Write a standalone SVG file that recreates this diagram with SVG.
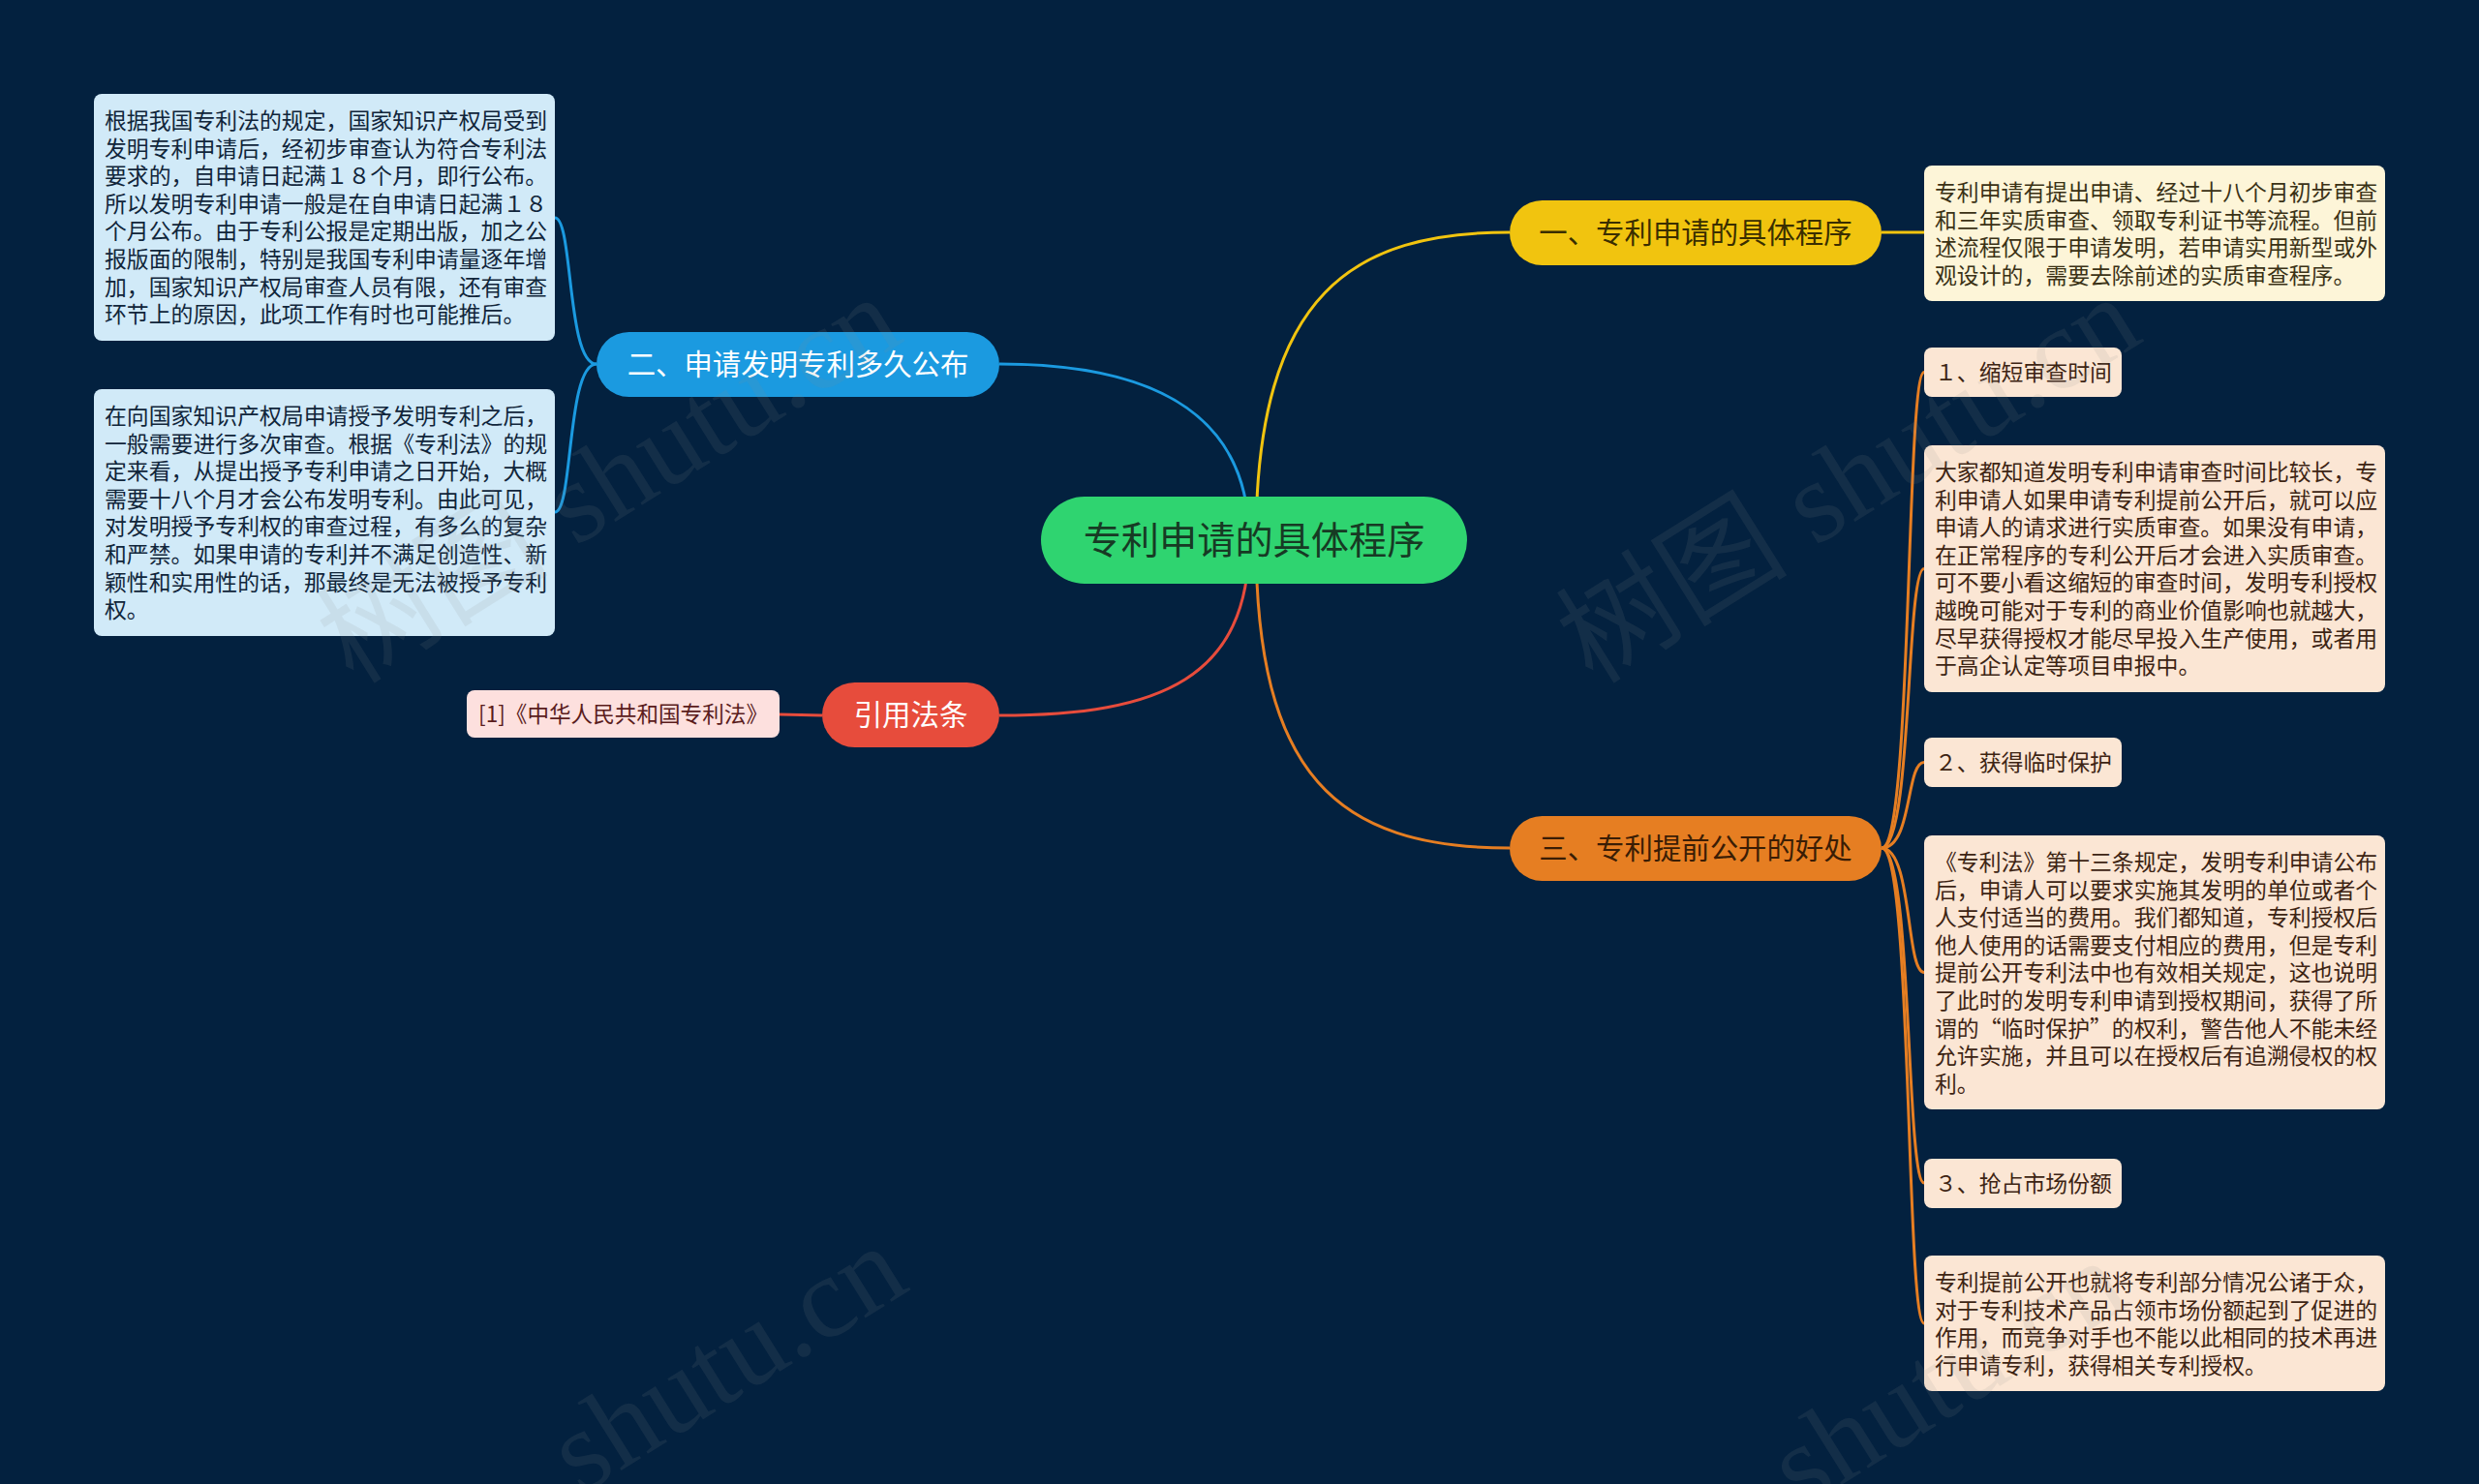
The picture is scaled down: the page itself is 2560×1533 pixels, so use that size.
<svg xmlns="http://www.w3.org/2000/svg" width="2560" height="1533" viewBox="0 0 2560 1533">
<style>
text{font-family:"Noto Sans CJK SC","Noto Sans",sans-serif}
.leaf{font-size:22.86px}
.main{font-size:29.4px;text-anchor:middle}
.wm{font-family:"Liberation Serif","Noto Sans CJK SC",serif;font-size:120px;fill:#8a8a8a;fill-opacity:0.12}
.c{fill:none;stroke-width:3}
</style>
<rect width="2560" height="1533" fill="#03213f"/>
<g id="connectors">
<path class="c" stroke="#f1c40f" d="M1297,558 C1297,300 1400,240 1559,240"/>
<path class="c" stroke="#f1c40f" d="M1943,240 L1987,240"/>
<path class="c" stroke="#1b9ae0" d="M1290,558 C1290,420 1180,376 1032,376"/>
<path class="c" stroke="#1b9ae0" d="M616,376 C585,376 592,225 573,225"/>
<path class="c" stroke="#1b9ae0" d="M616,376 C585,376 592,529 573,529"/>
<path class="c" stroke="#e74c3c" d="M1290,558 C1290,700 1200,739 1032,739"/>
<path class="c" stroke="#e74c3c" d="M849,739 L805,738"/>
<path class="c" stroke="#e67e22" d="M1297,558 C1297,800 1380,876 1559,876"/>
<path class="c" stroke="#e67e22" d="M1943,876 C1975,876 1968,384.5 1987,384.5"/>
<path class="c" stroke="#e67e22" d="M1943,876 C1975,876 1968,587.5 1987,587.5"/>
<path class="c" stroke="#e67e22" d="M1943,876 C1975,876 1968,787.5 1987,787.5"/>
<path class="c" stroke="#e67e22" d="M1943,876 C1975,876 1968,1004.5 1987,1004.5"/>
<path class="c" stroke="#e67e22" d="M1943,876 C1975,876 1968,1222 1987,1222"/>
<path class="c" stroke="#e67e22" d="M1943,876 C1975,876 1968,1367 1987,1367"/>
</g>
<g id="center">
<rect x="1075" y="513" width="440" height="90" rx="45" fill="#2fd470"/>
<text x="1295" y="572" style="font-size:39.2px;text-anchor:middle" fill="#173a24">专利申请的具体程序</text>
</g>
<g id="b1">
<rect x="1559" y="207" width="384" height="67" rx="33.5" fill="#f1c40f"/>
<text class="main" x="1751" y="251" fill="#3a2e00">一、专利申请的具体程序</text>
</g>
<g id="b1-leaf">
<rect x="1987" y="171" width="476" height="140" rx="8" fill="#fdf5d8"/>
<text class="leaf" fill="#3a3115"><tspan x="1998" y="207">专利申请有提出申请、经过十八个月初步审查</tspan><tspan x="1998" y="235.6">和三年实质审查、领取专利证书等流程。但前</tspan><tspan x="1998" y="264.2">述流程仅限于申请发明，若申请实用新型或外</tspan><tspan x="1998" y="292.8">观设计的，需要去除前述的实质审查程序。</tspan></text>
</g>
<g id="b2">
<rect x="616" y="343" width="416" height="67" rx="33.5" fill="#1b9ae0"/>
<text class="main" x="824" y="387" fill="#ffffff">二、申请发明专利多久公布</text>
</g>
<g id="b2-leaf1">
<rect x="97" y="97" width="476" height="255" rx="8" fill="#d1eaf8"/>
<text class="leaf" fill="#10253a"><tspan x="108" y="133">根据我国专利法的规定，国家知识产权局受到</tspan><tspan x="108" y="161.6">发明专利申请后，经初步审查认为符合专利法</tspan><tspan x="108" y="190.2">要求的，自申请日起满１８个月，即行公布。</tspan><tspan x="108" y="218.8">所以发明专利申请一般是在自申请日起满１８</tspan><tspan x="108" y="247.4">个月公布。由于专利公报是定期出版，加之公</tspan><tspan x="108" y="276">报版面的限制，特别是我国专利申请量逐年增</tspan><tspan x="108" y="304.6">加，国家知识产权局审查人员有限，还有审查</tspan><tspan x="108" y="333.2">环节上的原因，此项工作有时也可能推后。</tspan></text>
</g>
<g id="b2-leaf2">
<rect x="97" y="402" width="476" height="255" rx="8" fill="#d1eaf8"/>
<text class="leaf" fill="#10253a"><tspan x="108" y="438">在向国家知识产权局申请授予发明专利之后，</tspan><tspan x="108" y="466.6">一般需要进行多次审查。根据《专利法》的规</tspan><tspan x="108" y="495.2">定来看，从提出授予专利申请之日开始，大概</tspan><tspan x="108" y="523.8">需要十八个月才会公布发明专利。由此可见，</tspan><tspan x="108" y="552.4">对发明授予专利权的审查过程，有多么的复杂</tspan><tspan x="108" y="581">和严禁。如果申请的专利并不满足创造性、新</tspan><tspan x="108" y="609.6">颖性和实用性的话，那最终是无法被授予专利</tspan><tspan x="108" y="638.2">权。</tspan></text>
</g>
<g id="b3">
<rect x="849" y="705" width="183" height="67" rx="33.5" fill="#e74c3c"/>
<text class="main" x="940.5" y="749" fill="#ffffff">引用法条</text>
</g>
<g id="b3-leaf">
<rect x="482" y="713" width="323" height="49" rx="8" fill="#fde0de"/>
<text class="leaf" x="494" y="746" fill="#5a1c1c" textLength="299" lengthAdjust="spacingAndGlyphs">[1]《中华人民共和国专利法》</text>
</g>
<g id="b4">
<rect x="1559" y="843" width="384" height="67" rx="33.5" fill="#e67e22"/>
<text class="main" x="1751" y="887" fill="#3a1d05">三、专利提前公开的好处</text>
</g>
<g id="b4-l1">
<rect x="1987" y="359" width="204" height="51" rx="8" fill="#fbe6d4"/>
<text class="leaf" x="1998" y="393" fill="#3d2413">１、缩短审查时间</text>
</g>
<g id="b4-l2">
<rect x="1987" y="460" width="476" height="255" rx="8" fill="#fbe6d4"/>
<text class="leaf" fill="#3d2413"><tspan x="1998" y="496">大家都知道发明专利申请审查时间比较长，专</tspan><tspan x="1998" y="524.6">利申请人如果申请专利提前公开后，就可以应</tspan><tspan x="1998" y="553.2">申请人的请求进行实质审查。如果没有申请，</tspan><tspan x="1998" y="581.8">在正常程序的专利公开后才会进入实质审查。</tspan><tspan x="1998" y="610.4">可不要小看这缩短的审查时间，发明专利授权</tspan><tspan x="1998" y="639">越晚可能对于专利的商业价值影响也就越大，</tspan><tspan x="1998" y="667.6">尽早获得授权才能尽早投入生产使用，或者用</tspan><tspan x="1998" y="696.2">于高企认定等项目申报中。</tspan></text>
</g>
<g id="b4-l3">
<rect x="1987" y="762" width="204" height="51" rx="8" fill="#fbe6d4"/>
<text class="leaf" x="1998" y="796" fill="#3d2413">２、获得临时保护</text>
</g>
<g id="b4-l4">
<rect x="1987" y="863" width="476" height="283" rx="8" fill="#fbe6d4"/>
<text class="leaf" fill="#3d2413"><tspan x="1998" y="899">《专利法》第十三条规定，发明专利申请公布</tspan><tspan x="1998" y="927.6">后，申请人可以要求实施其发明的单位或者个</tspan><tspan x="1998" y="956.2">人支付适当的费用。我们都知道，专利授权后</tspan><tspan x="1998" y="984.8">他人使用的话需要支付相应的费用，但是专利</tspan><tspan x="1998" y="1013.4">提前公开专利法中也有效相关规定，这也说明</tspan><tspan x="1998" y="1042">了此时的发明专利申请到授权期间，获得了所</tspan><tspan x="1998" y="1070.6">谓的“临时保护”的权利，警告他人不能未经</tspan><tspan x="1998" y="1099.2">允许实施，并且可以在授权后有追溯侵权的权</tspan><tspan x="1998" y="1127.8">利。</tspan></text>
</g>
<g id="b4-l5">
<rect x="1987" y="1197" width="204" height="51" rx="8" fill="#fbe6d4"/>
<text class="leaf" x="1998" y="1231" fill="#3d2413">３、抢占市场份额</text>
</g>
<g id="b4-l6">
<rect x="1987" y="1297" width="476" height="140" rx="8" fill="#fbe6d4"/>
<text class="leaf" fill="#3d2413"><tspan x="1998" y="1333">专利提前公开也就将专利部分情况公诸于众，</tspan><tspan x="1998" y="1361.6">对于专利技术产品占领市场份额起到了促进的</tspan><tspan x="1998" y="1390.2">作用，而竞争对手也不能以此相同的技术再进</tspan><tspan x="1998" y="1418.8">行申请专利，获得相关专利授权。</tspan></text>
</g>
<g id="watermark">
<text class="wm" transform="translate(365,708) rotate(-32)">树图 shutu.cn</text>
<text class="wm" transform="translate(1645,708) rotate(-32)">树图 shutu.cn</text>
<text class="wm" transform="translate(600,1545) rotate(-32)">shutu.cn</text>
<text class="wm" transform="translate(1860,1560) rotate(-32)">shutu.cn</text>
</g>
</svg>
